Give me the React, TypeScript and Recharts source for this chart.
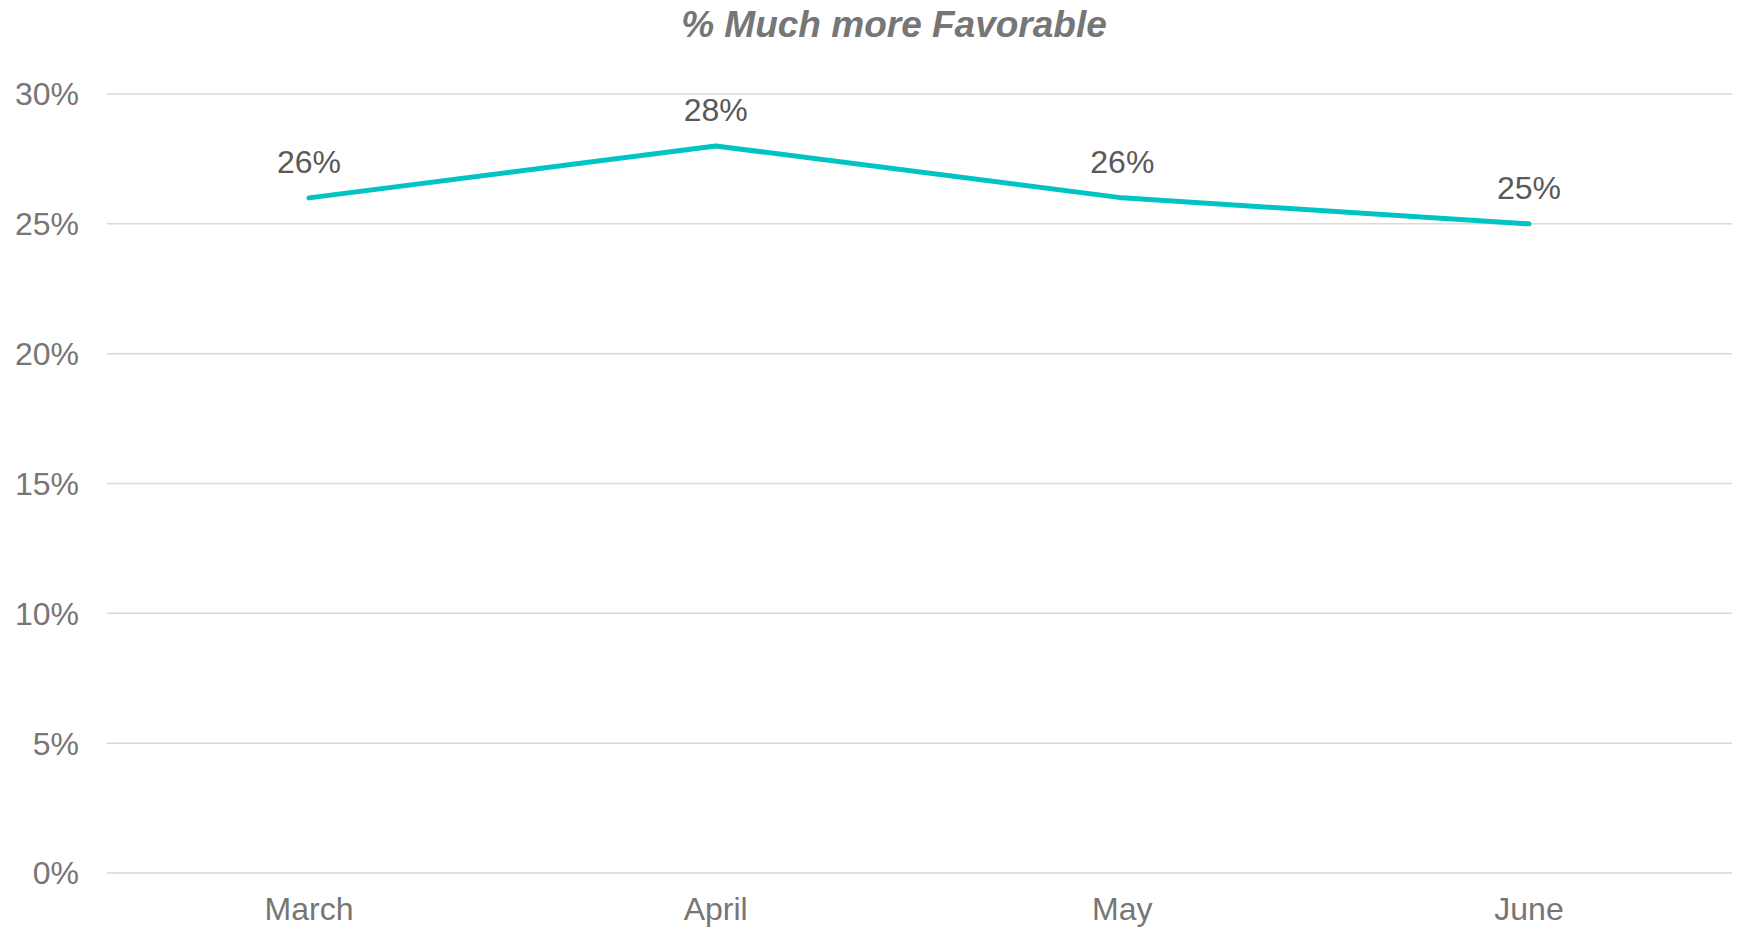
import React from "react";
import { LineChart, Line, XAxis, YAxis, CartesianGrid, LabelList } from "recharts";

const months = ["March", "April", "May", "June"];
const muchMoreFavorable = [26, 28, 26, 25];
const yTicks = [0, 5, 10, 15, 20, 25, 30];
const titleText = "% Much more Favorable";

const data = months.map((m, i) => ({ month: m, value: muchMoreFavorable[i] }));

const FONT = "'Liberation Sans', Arial, sans-serif";

export default function App() {
  return (
    <div style={{ position: "absolute", left: 0, top: 0, width: 1742, height: 927, background: "#fff", fontFamily: FONT }}>
      <div
        style={{
          position: "absolute",
          left: 394,
          top: 6,
          width: 1000,
          textAlign: "center",
          fontSize: 37,
          lineHeight: "37px",
          fontWeight: "bold",
          fontStyle: "italic",
          color: "#767676",
          fontFamily: FONT,
        }}
      >
        {titleText}
      </div>
      <LineChart
        width={1742}
        height={927}
        data={data}
        margin={{ top: 94, right: 10, bottom: 0, left: 0 }}
      >
        <CartesianGrid vertical={false} stroke="#D9D9D9" strokeWidth={1.5} />
        <XAxis
          dataKey="month"
          axisLine={false}
          tickLine={false}
          tickMargin={18}
          height={54}
          padding={{ left: 202, right: 203 }}
          tick={{ fill: "#767676", fontSize: 32, fontFamily: FONT }}
        />
        <YAxis
          width={107}
          domain={[0, 30]}
          ticks={yTicks}
          axisLine={false}
          tickLine={false}
          tickMargin={22}
          tickFormatter={(v: number) => `${v}%`}
          tick={{ fill: "#767676", fontSize: 32, fontFamily: FONT }}
        />
        <Line
          type="linear"
          dataKey="value"
          stroke="#00C3C3"
          strokeWidth={5}
          strokeLinecap="round"
          strokeLinejoin="round"
          dot={false}
          activeDot={false}
          isAnimationActive={false}
        >
          <LabelList
            dataKey="value"
            position="top"
            offset={25}
            formatter={(v: number) => `${v}%`}
            style={{ fill: "#595959", fontSize: 32, fontFamily: FONT }}
          />
        </Line>
      </LineChart>
    </div>
  );
}
